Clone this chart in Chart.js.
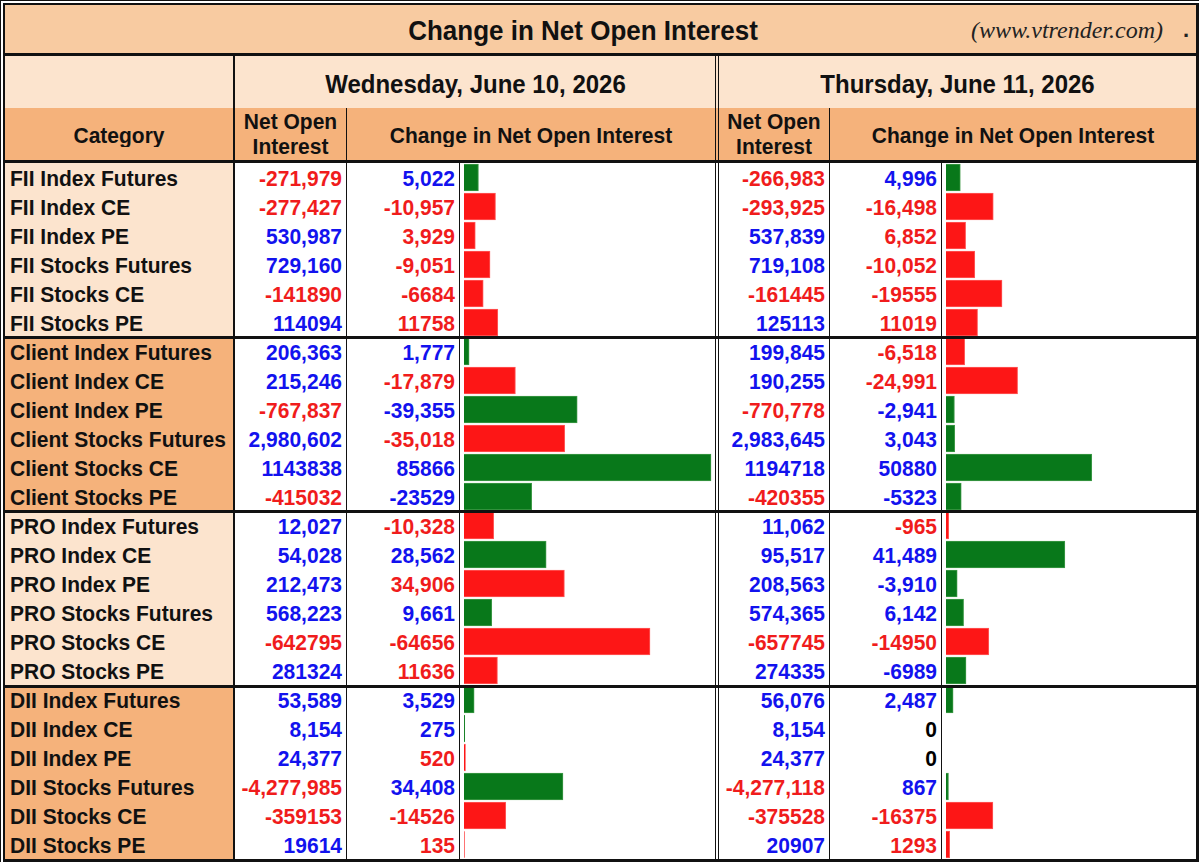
<!DOCTYPE html>
<html>

<head>
  <meta charset="utf-8" />
  <title>Change in Net Open Interest</title>
  <script src="https://cdn.jsdelivr.net/npm/chart.js"></script>
  <style>
    body {
      margin: 0;
      background: #fff;
      font-family: "Liberation Sans", Arial, sans-serif;
      font-weight: bold;
      overflow: hidden;
    }

    #sheet {
      position: relative;
      width: 1200px;
      height: 863px;
    }

    .box {
      position: absolute;
      box-sizing: border-box;
      white-space: nowrap;
      overflow: hidden;
    }

    /* the source text is a touch taller than plain Arial */
    .tall {
      transform: scaleY(1.07);
      overflow: visible;
    }

    canvas {
      position: absolute;
    }
  </style>
</head>

<body>
  <div id="sheet">
    <canvas id="wedChart" width="251" height="696" style="left: 464px; top: 163px;"></canvas>
    <canvas id="thuChart" width="250" height="696" style="left: 946px; top: 163px;"></canvas>
  </div>

  <script>
    // ---- data ----
    const categories = [
      'FII Index Futures', 'FII Index CE', 'FII Index PE', 'FII Stocks Futures', 'FII Stocks CE', 'FII Stocks PE',
      'Client Index Futures', 'Client Index CE', 'Client Index PE', 'Client Stocks Futures', 'Client Stocks CE', 'Client Stocks PE',
      'PRO Index Futures', 'PRO Index CE', 'PRO Index PE', 'PRO Stocks Futures', 'PRO Stocks CE', 'PRO Stocks PE',
      'DII Index Futures', 'DII Index CE', 'DII Index PE', 'DII Stocks Futures', 'DII Stocks CE', 'DII Stocks PE'
    ];
    const days = ['Wednesday, June 10, 2026', 'Thursday, June 11, 2026'];

    const wedNetOI = [-271979, -277427, 530987, 729160, -141890, 114094,
      206363, 215246, -767837, 2980602, 1143838, -415032,
      12027, 54028, 212473, 568223, -642795, 281324,
      53589, 8154, 24377, -4277985, -359153, 19614];
    const wedChange = [5022, -10957, 3929, -9051, -6684, 11758,
      1777, -17879, -39355, -35018, 85866, -23529,
      -10328, 28562, 34906, 9661, -64656, 11636,
      3529, 275, 520, 34408, -14526, 135];
    // 1 = bullish (blue text, green bar), -1 = bearish (red), 0 = no change
    const wedSignal = [1, -1, -1, -1, -1, -1,
      1, -1, 1, -1, 1, 1,
      -1, 1, -1, 1, -1, -1,
      1, 1, -1, 1, -1, -1];

    const thuNetOI = [-266983, -293925, 537839, 719108, -161445, 125113,
      199845, 190255, -770778, 2983645, 1194718, -420355,
      11062, 95517, 208563, 574365, -657745, 274335,
      56076, 8154, 24377, -4277118, -375528, 20907];
    const thuChange = [4996, -16498, 6852, -10052, -19555, 11019,
      -6518, -24991, -2941, 3043, 50880, -5323,
      -965, 41489, -3910, 6142, -14950, -6989,
      2487, 0, 0, 867, -16375, 1293];
    const thuSignal = [1, -1, -1, -1, -1, -1,
      -1, -1, 1, 1, 1, 1,
      -1, 1, 1, 1, -1, 1,
      1, 0, 0, 1, -1, -1];

    const AXIS_MAX = 87250;

    // ---- colours ----
    const BLUE = '#1212ee';
    const RED = '#f01c1c';
    const BAR_GREEN = '#08781a';
    const BAR_RED = '#fd1616';
    const PEACH = '#f8cba1';
    const LIGHT = '#fce4ce';
    const ORANGE = '#f5b27b';

    const sheet = document.getElementById('sheet');

    function box(x, y, w, h, css, text, cls) {
      const d = document.createElement('div');
      d.className = 'box' + (cls ? ' ' + cls : '');
      Object.assign(d.style, { left: x + 'px', top: y + 'px', width: w + 'px', height: h + 'px' }, css || {});
      if (text !== undefined) d.textContent = text;
      sheet.appendChild(d);
      return d;
    }

    function fmt(v, grouped) {
      return grouped ? v.toLocaleString('en-US') : String(v);
    }

    // ---- backgrounds ----
    box(5, 5, 1192, 48, { background: PEACH });
    box(5, 56, 1192, 52, { background: LIGHT });
    box(5, 108, 1192, 52, { background: ORANGE });
    categories.forEach(function (c, i) {
      const grp = Math.floor(i / 6) % 2;
      box(5, 163 + i * 29, 229, 29, { background: grp ? ORANGE : LIGHT });
    });

    // ---- header text ----
    box(383, 5, 400, 49, { fontSize: '26px', lineHeight: '50px', textAlign: 'center', color: '#111' }, 'Change in Net Open Interest', 'tall');
    box(971, 5, 205, 49, {
      fontFamily: '"Liberation Serif", "Times New Roman", serif', fontWeight: 'normal', fontStyle: 'italic',
      fontSize: '24px', lineHeight: '50px', color: '#222'
    }, '(www.vtrender.com)');
    box(1183, 5, 12, 49, { fontSize: '22px', lineHeight: '50px', color: '#222' }, '.');

    box(236, 56, 479, 52, { fontSize: '24px', lineHeight: '55px', textAlign: 'center', color: '#111' }, days[0], 'tall');
    box(719, 56, 477, 52, { fontSize: '24px', lineHeight: '55px', textAlign: 'center', color: '#111' }, days[1], 'tall');

    const hdr = { fontSize: '21px', textAlign: 'center', color: '#111' };
    box(5, 108, 228, 52, Object.assign({ lineHeight: '54px' }, hdr), 'Category', 'tall');
    [[235, 111], [719, 110]].forEach(function (c) {
      box(c[0], 110, c[1], 50, Object.assign({ lineHeight: '24px', whiteSpace: 'pre-line' }, hdr), 'Net Open\nInterest', 'tall');
    });
    box(347, 108, 368, 52, Object.assign({ lineHeight: '54px' }, hdr), 'Change in Net Open Interest', 'tall');
    box(830, 108, 366, 52, Object.assign({ lineHeight: '54px' }, hdr), 'Change in Net Open Interest', 'tall');

    // ---- table rows ----
    function sideText(netOI, change, signal, x1, w1, x2, w2) {
      categories.forEach(function (c, i) {
        const grouped = !/Stocks (CE|PE)/.test(c);
        const y = 163 + i * 29;
        const cell = { fontSize: '21px', lineHeight: '30px', textAlign: 'right', paddingRight: '4px' };
        box(x1, y, w1, 29, Object.assign({ color: netOI[i] < 0 ? RED : BLUE }, cell), fmt(netOI[i], grouped), 'tall');
        const col = signal[i] > 0 ? BLUE : (signal[i] < 0 ? RED : '#000');
        box(x2, y, w2, 29, Object.assign({ color: col }, cell), fmt(change[i], grouped), 'tall');
      });
    }
    categories.forEach(function (c, i) {
      box(10, 163 + i * 29, 224, 29, { fontSize: '21px', lineHeight: '30px', color: '#111' }, c, 'tall');
    });
    sideText(wedNetOI, wedChange, wedSignal, 235, 111, 347, 112);
    sideText(thuNetOI, thuChange, thuSignal, 719, 110, 830, 111);

    // ---- bars ----
    function drawBars(id, change, signal) {
      new Chart(document.getElementById(id), {
        type: 'bar',
        data: {
          labels: categories,
          datasets: [{
            data: change.map(Math.abs),
            backgroundColor: signal.map(s => s > 0 ? BAR_GREEN : (s < 0 ? BAR_RED : 'rgba(0,0,0,0)')),
            borderColor: signal.map(s => s > 0 ? '#3f9a48' : (s < 0 ? '#ff5a5a' : 'rgba(0,0,0,0)')),
            borderWidth: 1,
            barThickness: 27
          }]
        },
        options: {
          indexAxis: 'y',
          responsive: false,
          animation: false,
          layout: { padding: 0 },
          plugins: {
            legend: { display: false },
            tooltip: { enabled: false }
          },
          scales: {
            x: { display: false, min: 0, max: AXIS_MAX },
            y: { display: false }
          }
        }
      });
    }
    drawBars('wedChart', wedChange, wedSignal);
    drawBars('thuChart', thuChange, thuSignal);

    // ---- grid lines ----
    const K = { background: '#111' };
    box(0, 0, 1199, 1, K);
    box(0, 0, 1, 862, K);
    box(3, 3, 1196, 2, K);           // inner frame top
    box(3, 3, 2, 859, K);            // left
    box(1196, 3, 3, 859, K);         // right
    box(3, 859, 1196, 3, K);         // bottom
    box(5, 53, 1192, 3, K);          // under title
    box(5, 160, 1192, 3, K);         // under header
    [336, 510, 685].forEach(function (y) { box(5, y, 1192, 3, K); });
    box(233, 56, 2, 803, K);
    box(346, 108, 1, 751, K);
    box(459, 163, 1, 696, K);
    box(715, 56, 1, 803, K);
    box(718, 56, 1, 803, K);
    box(829, 108, 1, 751, K);
    box(941, 163, 1, 696, K);
  </script>
</body>

</html>
